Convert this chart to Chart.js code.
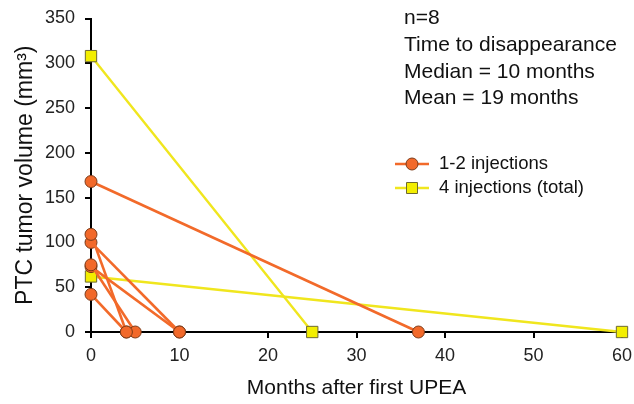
<!DOCTYPE html>
<html>
<head>
<meta charset="utf-8">
<script src="https://cdn.jsdelivr.net/npm/chart.js@4"></script>
<style>
  html, body { margin: 0; padding: 0; background: #fff; }
  #wrap { width: 634px; height: 404px; position: relative; }
</style>
</head>
<body>
<div id="wrap"><canvas id="c" width="634" height="404"></canvas></div>
<script>
// Data
const orangeStartVolumes = [168, 109, 100, 75, 73, 42];   // mm3 at month 0
const orangeEndMonths    = [37, 4, 10, 5, 10, 4];          // month of disappearance
const yellowStartVolumes = [308, 62];
const yellowEndMonths    = [25, 60];
const legendLabels = ['1-2 injections', '4 injections (total)'];
const noteLines = ['n=8', 'Time to disappearance', 'Median = 10 months', 'Mean = 19 months'];
const xTitle = 'Months after first UPEA';
const yTitle = 'PTC tumor volume (mm\u00B3)';

const ORANGE = '#f26a2a', ORANGE_FILL = '#f2692a', ORANGE_EDGE = '#7a3a18';
const YELLOW = '#f0e61e', YELLOW_FILL = '#f3ee00', YELLOW_EDGE = '#6e6a30';
const FONT = "'Liberation Sans', Arial, sans-serif";

const datasets = [];
orangeStartVolumes.forEach((v, i) => {
  datasets.push({
    data: [{x: 0, y: v}, {x: orangeEndMonths[i], y: 0}],
    borderColor: ORANGE, borderWidth: 2.6,
    pointStyle: 'circle', pointRadius: 6, pointBorderWidth: 1,
    pointBackgroundColor: ORANGE_FILL, pointBorderColor: ORANGE_EDGE,
    clip: false, order: 1
  });
});
yellowStartVolumes.forEach((v, i) => {
  datasets.push({
    data: [{x: 0, y: v}, {x: yellowEndMonths[i], y: 0}],
    borderColor: YELLOW, borderWidth: 2.4,
    pointStyle: 'rect', pointRadius: 8, pointBorderWidth: 1,
    pointBackgroundColor: YELLOW_FILL, pointBorderColor: YELLOW_EDGE,
    clip: false, order: 2
  });
});

const overlay = {
  id: 'overlay',
  afterDraw(chart) {
    const ctx = chart.ctx;
    ctx.save();
    ctx.fillStyle = '#111';
    ctx.textAlign = 'left';
    ctx.textBaseline = 'middle';
    ctx.font = '21px ' + FONT;
    const noteY = [18, 45, 72, 98];
    noteLines.forEach((t, i) => ctx.fillText(t, 404, noteY[i]));

    // legend
    const legY = [164, 188];
    const styles = [
      {line: ORANGE, fill: ORANGE_FILL, edge: ORANGE_EDGE, shape: 'circle'},
      {line: YELLOW, fill: YELLOW_FILL, edge: YELLOW_EDGE, shape: 'rect'}
    ];
    legendLabels.forEach((t, i) => {
      const s = styles[i], y = legY[i];
      ctx.strokeStyle = s.line; ctx.lineWidth = 2.4;
      ctx.beginPath(); ctx.moveTo(395, y); ctx.lineTo(429, y); ctx.stroke();
      ctx.fillStyle = s.fill; ctx.strokeStyle = s.edge; ctx.lineWidth = 1;
      ctx.beginPath();
      if (s.shape === 'circle') ctx.arc(412, y, 6, 0, Math.PI * 2);
      else ctx.rect(406.5, y - 5.5, 11, 11);
      ctx.fill(); ctx.stroke();
      ctx.fillStyle = '#111';
      ctx.font = '18.5px ' + FONT;
      ctx.fillText(t, 439, y);
    });
    ctx.restore();
  }
};

new Chart(document.getElementById('c'), {
  type: 'line',
  data: { datasets },
  options: {
    responsive: false,
    animation: false,
    layout: { padding: { top: 18.5, right: 12, left: 0, bottom: 0 } },
    plugins: { legend: { display: false }, tooltip: { enabled: false } },
    scales: {
      x: {
        type: 'linear', min: 0, max: 60,
        ticks: { stepSize: 10, color: '#222', padding: 7, font: { family: FONT, size: 18 } },
        grid: { drawOnChartArea: false, tickLength: 6, color: '#000', lineWidth: 2 },
        border: { color: '#000', width: 2 },
        title: { display: true, text: xTitle, color: '#111', padding: { top: 4, bottom: 3 },
                 font: { family: FONT, size: 21 } },
        afterFit(s) { s.height = 72; s.paddingRight = 0; s.paddingLeft = 0; }
      },
      y: {
        type: 'linear', min: 0, max: 350,
        ticks: { stepSize: 50, color: '#222', padding: 10, font: { family: FONT, size: 18 } },
        grid: { drawOnChartArea: false, tickLength: 6, color: '#000', lineWidth: 2 },
        border: { color: '#000', width: 2 },
        title: { display: true, text: yTitle, color: '#111', padding: { top: 12, bottom: 0 },
                 font: { family: FONT, size: 23 } },
        afterFit(s) { s.width = 91; s.paddingTop = 0; s.paddingBottom = 0; }
      }
    }
  },
  plugins: [overlay]
});
</script>
</body>
</html>
